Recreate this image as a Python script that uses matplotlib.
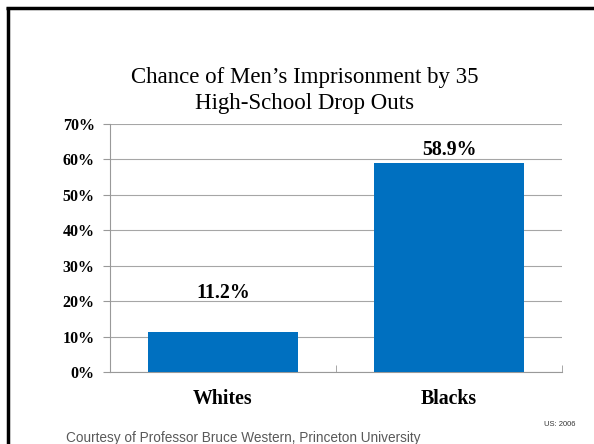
import matplotlib
matplotlib.use("Agg")
import matplotlib.pyplot as plt
from matplotlib.lines import Line2D

categories = ["Whites", "Blacks"]
values = [11.2, 58.9]
yticks = [0, 10, 20, 30, 40, 50, 60, 70]
title_lines = ["Chance of Men\u2019s Imprisonment by 35", "High-School Drop Outs"]
footer = "Courtesy of Professor Bruce Western, Princeton University"
stamp = "US: 2006"

serif = "Liberation Serif"
sans = "Liberation Sans"
W, H = 594, 444

fig = plt.figure(figsize=(W / 100, H / 100), dpi=100)
fig.patch.set_facecolor("white")

# slide frame (top and left edges)
fig.add_artist(Line2D([6 / W, 1.0], [1 - 8 / H, 1 - 8 / H], transform=fig.transFigure,
                      color="black", lw=2.5, solid_capstyle="butt"))
fig.add_artist(Line2D([7.5 / W, 7.5 / W], [0, 1 - 7 / H], transform=fig.transFigure,
                      color="black", lw=2.5, solid_capstyle="butt"))

ax = fig.add_axes([110 / W, (H - 372) / H, (562 - 110) / W, (372 - 124) / H])
x = range(len(categories))
ax.bar(x, values, width=0.66, color="#0070C0", zorder=3)
ax.set_xlim(-0.5, len(categories) - 0.5)
ax.set_ylim(0, 70)
ax.set_yticks(yticks)
ax.set_yticklabels([f"{t}%" for t in yticks], fontfamily=serif, fontweight="bold", fontsize=11.5)
ax.set_xticks(list(x))
ax.set_xticklabels(categories, fontfamily=serif, fontweight="bold", fontsize=14.3)
ax.tick_params(axis="x", length=0, pad=12)
ax.tick_params(axis="y", length=5, width=0.8, color="#999999", pad=6)
ax.grid(axis="y", color="#a6a6a6", lw=0.8, zorder=0)
for side in ("top", "right"):
    ax.spines[side].set_visible(False)
ax.spines["left"].set_color("#999999")
ax.spines["bottom"].set_color("#999999")
# small ticks between categories on the baseline
ax.set_xticks([-0.5, 0.5, 1.5], minor=True)
ax.tick_params(axis="x", which="minor", length=5, color="#999999", direction="in")

label_offsets = [11.0, 3.8]
for xi, v, off in zip(x, values, label_offsets):
    ax.text(xi, v + off, f"{v}%", ha="center", va="center",
            fontfamily=serif, fontweight="bold", fontsize=14.3)

for i, line in enumerate(title_lines):
    fig.text(305 / W, 1 - (83 + 26 * i) / H, line, ha="center", va="baseline",
             fontfamily=serif, fontsize=16.5)
fig.text(66 / W, 1 - 438 / H, footer, ha="left", va="center",
         fontfamily=sans, fontsize=9.8, color="#595959")
fig.text(576 / W, 1 - 424 / H, stamp, ha="right", va="center",
         fontfamily=sans, fontsize=5.5, color="#333333")

fig.savefig("out.png", dpi=100, facecolor="white")
